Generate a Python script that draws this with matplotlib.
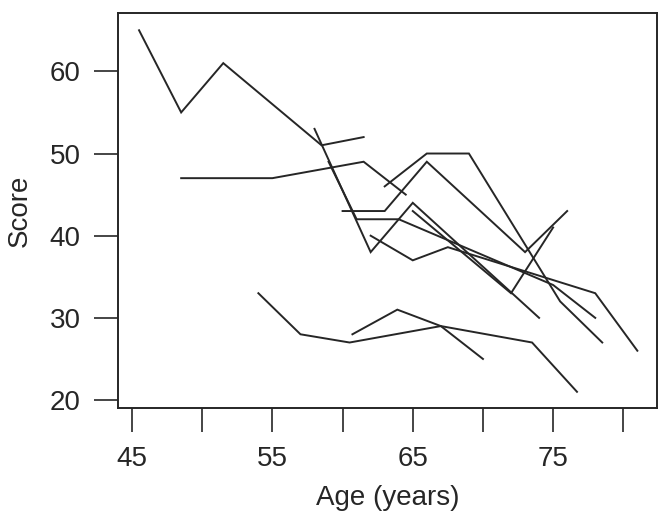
import matplotlib
matplotlib.use("Agg")
import matplotlib.pyplot as plt

plt.rcParams["font.family"] = ["Liberation Sans", "DejaVu Sans"]

INK = "#262626"

# one list of ages and one of scores per subject
age_1 = [45.5, 48.5, 51.5, 58.5, 61.5]
score_1 = [65, 55, 61, 51, 52]
age_2 = [48.5, 55, 61.5, 64.5]
score_2 = [47, 47, 49, 45]
age_3 = [58, 62, 65, 74]
score_3 = [53, 38, 44, 30]
age_4 = [59, 61, 64, 75, 78]
score_4 = [49, 42, 42, 34, 30]
age_5 = [60, 63, 66, 73, 76]
score_5 = [43, 43, 49, 38, 43]
age_6 = [63, 66, 69, 75.5, 78.5]
score_6 = [46, 50, 50, 32, 27]
age_7 = [62, 65, 67.5, 78, 81]
score_7 = [40, 37, 38.6, 33, 26]
age_8 = [65, 72, 75]
score_8 = [43, 33, 41]
age_9 = [54, 57, 60.5, 67, 73.5, 76.7]
score_9 = [33, 28, 27, 29, 27, 21]
age_10 = [60.7, 63.9, 67, 70]
score_10 = [28, 31, 29, 25]

subjects = [
    (age_1, score_1), (age_2, score_2), (age_3, score_3), (age_4, score_4),
    (age_5, score_5), (age_6, score_6), (age_7, score_7), (age_8, score_8),
    (age_9, score_9), (age_10, score_10),
]

x_ticks = [45, 50, 55, 60, 65, 70, 75, 80]
x_labels = ["45", "", "55", "", "65", "", "75", ""]
y_ticks = [20, 30, 40, 50, 60]

fig = plt.figure(figsize=(6.68, 5.23), dpi=100)
ax = fig.add_axes([118 / 668, 1 - 408 / 523, (657 - 118) / 668, (408 - 13) / 523])

for ages, scores in subjects:
    ax.plot(ages, scores, color=INK, lw=1.4, solid_joinstyle="miter")

ax.set_xlim(44.0, 82.4)
ax.set_ylim(19.03, 67.1)

ax.set_xticks(x_ticks)
ax.set_xticklabels(x_labels)
ax.set_yticks(y_ticks)

for s in ax.spines.values():
    s.set_color(INK)
    s.set_linewidth(1.4)

ax.tick_params(axis="both", direction="out", length=17, width=1.2,
               color=INK, labelsize=20, labelcolor=INK, pad=10)

ax.set_xlabel("Age (years)", fontsize=20, color=INK, labelpad=10)
ax.set_ylabel("Score", fontsize=20, color=INK, labelpad=12)

fig.savefig("out.png", dpi=100, facecolor="white")
